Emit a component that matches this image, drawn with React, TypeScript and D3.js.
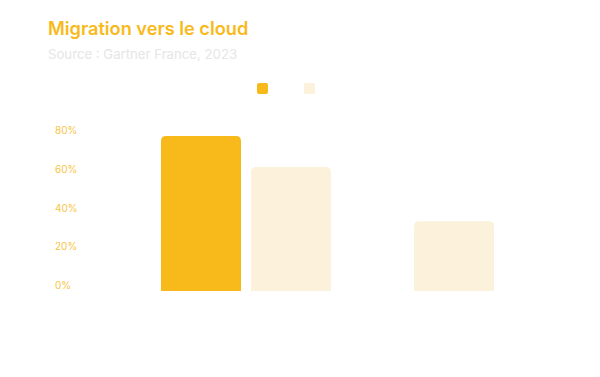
import React from "react";
import * as d3 from "d3";

const categories = ["Catégorie 1", "Catégorie 2"];
const seriesNames = ["Série 1", "Série 2"];
const series1 = [80, null];
const series2 = [64, 36];
const yTicks = [0, 20, 40, 60, 80];
const title = "Migration vers le cloud";
const subtitle = "Source : Gartner France, 2023";

const colors = ["#F8BA1B", "#FCF1DA"];

function topRounded(x: number, y: number, w: number, h: number, r: number) {
  const rr = Math.min(r, h, w / 2);
  return `M${x},${y + h}V${y + rr}Q${x},${y} ${x + rr},${y}H${x + w - rr}Q${x + w},${y} ${x + w},${y + rr}V${y + h}Z`;
}

export default function App() {
  const W = 600, H = 377;
  const y = d3.scaleLinear().domain([0, 80]).range([291, 136]);
  const x0 = d3.scaleBand<string>().domain(categories).range([142, 558]).paddingInner(0);
  const barW = 80, gap = 10;
  const step = barW + gap;
  const p = gap / step;
  const allSeries = [series1, series2];

  const bars: { key: string; x: number; w: number; v: number; color: string }[] = [];
  categories.forEach((c, ci) => {
    const present = seriesNames.filter((_, si) => allSeries[si][ci] != null);
    const n = present.length;
    const center = (x0(c) ?? 0) + x0.bandwidth() / 2;
    const x1 = d3
      .scaleBand<string>()
      .domain(present)
      .range([center - (n * step) / 2, center + (n * step) / 2])
      .paddingInner(p)
      .paddingOuter(p / 2);
    present.forEach((s) => {
      const si = seriesNames.indexOf(s);
      bars.push({ key: `${c}-${s}`, x: x1(s) ?? 0, w: x1.bandwidth(), v: allSeries[si][ci] as number, color: colors[si] });
    });
  });

  return (
    <svg width={W} height={H} style={{ position: "absolute", left: 0, top: 0, background: "#fff" }} fontFamily="Inter, 'Noto Sans', sans-serif">
      <text x={48} y={35} fontSize={18.2} fontWeight={600} fill="#F8BA1B">{title}</text>
      <text x={48} y={59} fontSize={13.2} fill="#E6E6E6">{subtitle}</text>
      {seriesNames.map((s, i) => (
        <rect key={s} x={257 + i * 47} y={83} width={11} height={11} rx={2} fill={colors[i]} />
      ))}
      {yTicks.map((t) => (
        <text key={t} x={55} y={y(t) - 2} fontSize={10} fill="#F8BA1B" opacity={0.85}>{`${t}%`}</text>
      ))}
      {bars.map((b) => (
        <path key={b.key} d={topRounded(b.x, y(b.v), b.w, y(0) - y(b.v), 5)} fill={b.color} />
      ))}
    </svg>
  );
}
